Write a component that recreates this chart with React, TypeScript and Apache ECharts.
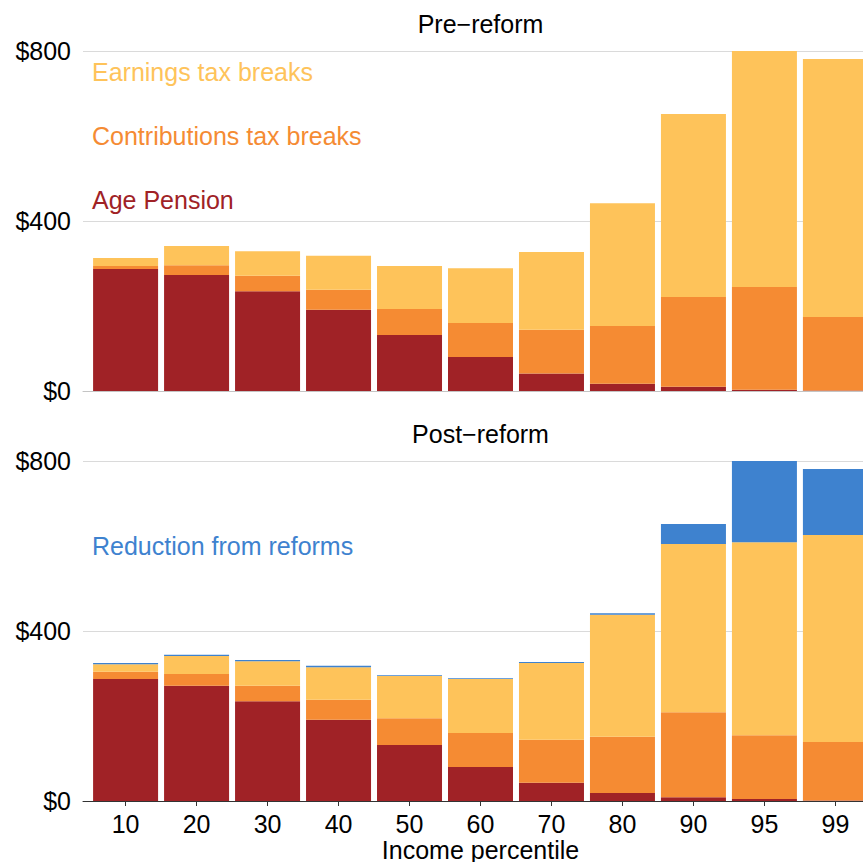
import React, { useEffect, useRef } from "react";
import * as echarts from "echarts";

const categories = ["10", "20", "30", "40", "50", "60", "70", "80", "90", "95", "99"];
const yTicks = [0, 400, 800];

// Pre-reform ($)
const preAgePension = [287, 273, 235, 191, 132, 80, 41, 17, 10, 3, 1];
const preContributions = [7, 23, 36, 47, 61, 80, 103, 136, 211, 242, 173];
const preEarnings = [19, 45, 58, 80, 101, 129, 183, 289, 431, 557, 607];

// Post-reform ($)
const postAgePension = [287, 271, 235, 191, 132, 80, 43, 19, 9, 5, 1];
const postContributions = [17, 28, 36, 47, 63, 80, 101, 132, 200, 150, 138];
const postEarnings = [18, 42, 58, 77, 99, 127, 181, 287, 396, 454, 487];
const postReduction = [3, 3, 3, 3, 2, 2, 2, 4, 47, 193, 155];

const COLORS = {
  earnings: "#FEC35A",
  contributions: "#F58B33",
  age: "#A02226",
  reduction: "#3E82CF",
};

const FONT = "'Liberation Sans', Arial, Helvetica, sans-serif";
const FS = 25;

const positions = categories.map((_, i) => i + 1);
// value first so that the stack is computed on the y value
const pair = (arr: number[]) => arr.map((v, i) => [v, i + 1]);

export default function App() {
  const ref = useRef<HTMLDivElement>(null);
  useEffect(() => {
    if (!ref.current) return;
    const chart = echarts.init(ref.current, undefined, { renderer: "svg" });

    const gridLeft = 83;
    const gridWidth = 795;
    const grids = [
      { left: gridLeft, width: gridWidth, top: 51, height: 340 },
      { left: gridLeft, width: gridWidth, top: 461, height: 340 },
    ];

    const xAxisBase = (gridIndex: number, bottom: boolean) => ({
      type: "value",
      gridIndex,
      min: 0.4,
      max: 11.6,
      splitLine: { show: false },
      axisLine: {
        show: true,
        onZero: false,
        lineStyle: { color: bottom ? "#333333" : "#c4c4c4", width: 1 },
      },
      axisTick: bottom
        ? { show: true, customValues: positions, length: 5, lineStyle: { color: "#333333" } }
        : { show: false },
      axisLabel: bottom
        ? {
            show: true,
            customValues: positions,
            formatter: (v: number) => categories[Math.round(v) - 1] ?? "",
            color: "#000",
            fontFamily: FONT,
            fontSize: FS,
            margin: 10,
          }
        : { show: false },
    });

    const yAxisBase = (gridIndex: number) => ({
      type: "value",
      gridIndex,
      min: yTicks[0],
      max: yTicks[yTicks.length - 1],
      interval: 400,
      axisLine: { show: false },
      axisTick: { show: false },
      splitLine: { show: true, lineStyle: { color: "#dadada", width: 1 } },
      axisLabel: {
        color: "#000",
        fontFamily: FONT,
        fontSize: FS,
        margin: 12,
        formatter: (v: number) => "$" + v,
      },
    });

    const bar = (name: string, data: number[], color: string, idx: number, stack: string) => ({
      type: "bar",
      name,
      stack,
      xAxisIndex: idx,
      yAxisIndex: idx,
      barWidth: 65,
      data: pair(data),
      encode: { x: 1, y: 0 },
      itemStyle: { color },
      emphasis: { disabled: true },
    });

    const label = (text: string, x: number, y: number, color: string, align = "left") => ({
      type: "text",
      x,
      y,
      style: {
        text,
        fill: color,
        font: `${FS}px ${FONT}`,
        align,
        verticalAlign: "middle",
      },
    });

    chart.setOption({
      animation: false,
      grid: grids,
      xAxis: [xAxisBase(0, false), xAxisBase(1, true)],
      yAxis: [yAxisBase(0), yAxisBase(1)],
      series: [
        bar("Age Pension", preAgePension, COLORS.age, 0, "pre"),
        bar("Contributions tax breaks", preContributions, COLORS.contributions, 0, "pre"),
        bar("Earnings tax breaks", preEarnings, COLORS.earnings, 0, "pre"),
        bar("Age Pension", postAgePension, COLORS.age, 1, "post"),
        bar("Contributions tax breaks", postContributions, COLORS.contributions, 1, "post"),
        bar("Earnings tax breaks", postEarnings, COLORS.earnings, 1, "post"),
        bar("Reduction from reforms", postReduction, COLORS.reduction, 1, "post"),
      ],
      graphic: [
        label("Pre\u2212reform", 480.5, 24, "#000", "center"),
        label("Post\u2212reform", 480.5, 434, "#000", "center"),
        label("Income percentile", 480.5, 850, "#000", "center"),
        label("Earnings tax breaks", 92, 72, COLORS.earnings),
        label("Contributions tax breaks", 92, 136, COLORS.contributions),
        label("Age Pension", 92, 200, COLORS.age),
        label("Reduction from reforms", 92, 546, COLORS.reduction),
      ],
    });
    return () => chart.dispose();
  }, []);

  return (
    <div
      style={{
        position: "fixed",
        left: 0,
        top: 0,
        width: 863,
        height: 862,
        overflow: "hidden",
        background: "#fff",
      }}
    >
      <div ref={ref} style={{ width: 880, height: 862 }} />
    </div>
  );
}
